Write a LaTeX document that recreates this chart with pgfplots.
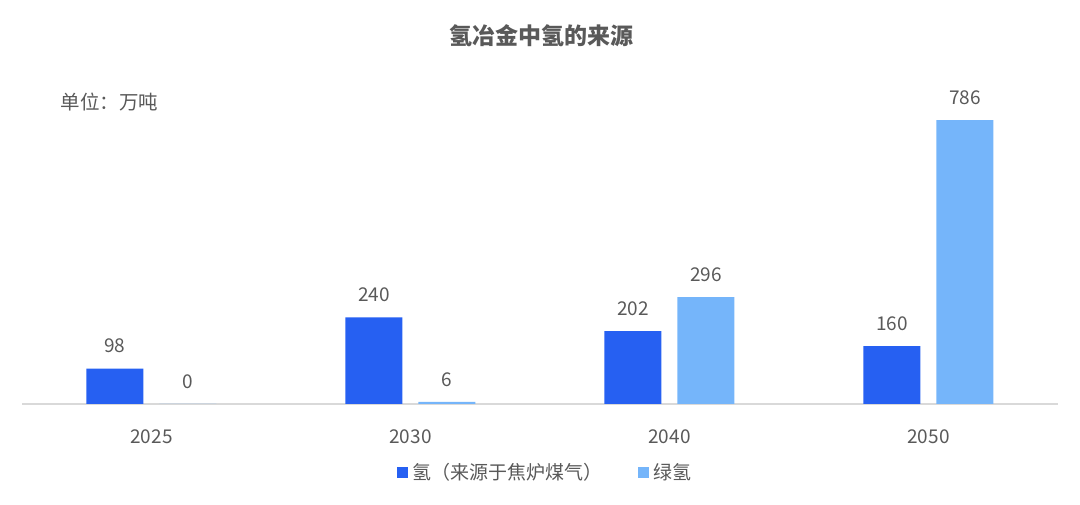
\documentclass[border=0pt]{standalone}
\usepackage{fontspec}
\setmainfont{Noto Sans CJK SC}
\usepackage{pgfplots}
\pgfplotsset{compat=1.18}
\definecolor{dblue}{HTML}{2660F2}
\definecolor{lblue}{HTML}{75B5FA}
\definecolor{txt}{HTML}{595959}
\definecolor{axl}{HTML}{D9D9D9}
\begin{document}
\begin{tikzpicture}
\path[use as bounding box] (0,0) rectangle (1080pt,505pt);
\node[text=txt,font=\fontsize{23}{26}\selectfont\bfseries] at (541pt,469pt) {氢冶金中氢的来源};
\node[text=txt,font=\fontsize{19.5}{22}\selectfont,anchor=west] at (57pt,403pt) {单位：万吨};
\begin{axis}[
  at={(22pt,101pt)}, anchor=south west,
  scale only axis, width=1036pt, height=361pt,
  xmin=-0.5, xmax=3.5, ymin=0, ymax=1000,
  ybar=16pt, bar width=57pt,
  axis x line*=bottom, axis y line=none,
  x axis line style={draw=axl, line width=1.2pt, -},
  xtick={0,1,2,3}, xticklabels={2025,2030,2040,2050},
  xtick style={draw=none},
  ytick=\empty,
  /pgf/number format/assume math mode=true,
  ticklabel style={text=txt, font=\fontsize{19}{22}\selectfont},
  xticklabel style={yshift=-18pt},
  nodes near coords,
  every node near coord/.append style={text=txt, font=\fontsize{19}{22}\selectfont, anchor=south, yshift=12pt},
  legend style={draw=none, at={(0.505,-0.19)}, anchor=center, legend columns=2,
    font=\fontsize{19}{22}\selectfont, text=txt,
    /tikz/every even column/.append style={column sep=34pt},
    /tikz/every odd column/.append style={column sep=2pt}},
  legend image code/.code={\fill[#1] (0pt,-5.5pt) rectangle (11pt,5.5pt);},
]
\addplot[fill=dblue, draw=none] coordinates {(0,98) (1,240) (2,202) (3,160)};
\addlegendentry{氢（来源于焦炉煤气）}
\addplot[fill=lblue, draw=none] coordinates {(0,0) (1,6) (2,296) (3,786)};
\addlegendentry{绿氢}
\end{axis}
\end{tikzpicture}
\end{document}
